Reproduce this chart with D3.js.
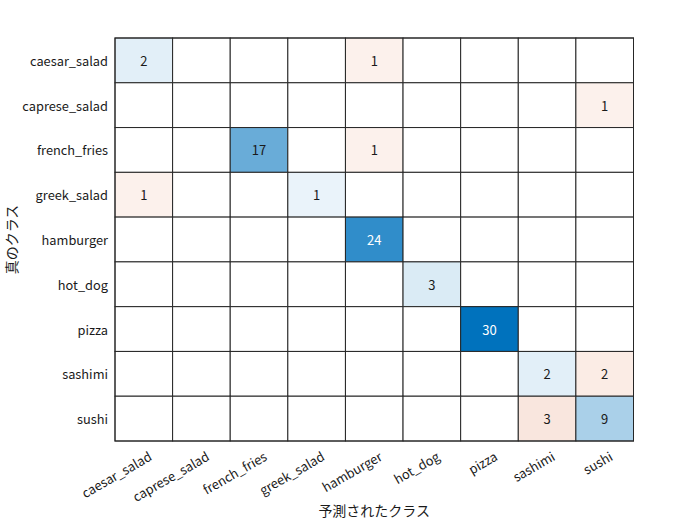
<!DOCTYPE html>
<html><head><meta charset="utf-8">
<script src="https://cdn.jsdelivr.net/npm/d3@7"></script>
<style>body{margin:0;background:#fff}text{font-family:"Noto Sans CJK JP","Noto Sans",sans-serif}</style>
</head><body><svg id="c" width="700" height="525"></svg>
<script>
const classes = ["caesar_salad","caprese_salad","french_fries","greek_salad","hamburger","hot_dog","pizza","sashimi","sushi"];
// counts[trueRow][predictedCol]
const row_caesar_salad  = [2,0,0,0,1,0,0,0,0];
const row_caprese_salad = [0,0,0,0,0,0,0,0,1];
const row_french_fries  = [0,0,17,0,1,0,0,0,0];
const row_greek_salad   = [1,0,0,1,0,0,0,0,0];
const row_hamburger     = [0,0,0,0,24,0,0,0,0];
const row_hot_dog       = [0,0,0,0,0,3,0,0,0];
const row_pizza         = [0,0,0,0,0,0,30,0,0];
const row_sashimi       = [0,0,0,0,0,0,0,2,2];
const row_sushi         = [0,0,0,0,0,0,0,3,9];
const counts = [row_caesar_salad,row_caprese_salad,row_french_fries,row_greek_salad,row_hamburger,row_hot_dog,row_pizza,row_sashimi,row_sushi];
const xLabel = "予測されたクラス";
const yLabel = "真のクラス";

const svg = d3.select("#c");
const L=115, R=633.5, T=38, B=441;
const x = d3.scaleBand().domain(classes).range([L,R]);
const y = d3.scaleBand().domain(classes).range([T,B]);
const maxV = d3.max(counts.flat());
const tScale = d3.scaleLinear().domain([0,maxV]).range([0.05,1]);
const blue = d3.interpolateRgb("#ffffff","rgb(0,114,189)");
const orange = d3.interpolateRgb("#ffffff","rgb(217,83,25)");

const cells=[];
counts.forEach((row,i)=>row.forEach((v,j)=>cells.push({r:classes[i],c:classes[j],v,diag:i===j})));

svg.selectAll("rect.cell").data(cells).join("rect")
 .attr("x",d=>x(d.c)).attr("y",d=>y(d.r))
 .attr("width",x.bandwidth()).attr("height",y.bandwidth())
 .attr("fill",d=>d.v===0?"#fff":(d.diag?blue:orange)(tScale(d.v)))
 .attr("stroke","#262626").attr("stroke-width",1);

svg.selectAll("text.val").data(cells.filter(d=>d.v>0)).join("text")
 .attr("x",d=>x(d.c)+x.bandwidth()/2).attr("y",d=>y(d.r)+y.bandwidth()/2)
 .attr("text-anchor","middle").attr("dominant-baseline","central")
 .attr("font-size",13)
 .attr("fill",d=>tScale(d.v)>0.7?"#fff":"#1a1a1a")
 .text(d=>d.v);

svg.append("rect").attr("x",L).attr("y",T).attr("width",R-L).attr("height",B-T)
 .attr("fill","none").attr("stroke","#262626").attr("stroke-width",1);

// y tick labels
svg.selectAll("text.yt").data(classes).join("text")
 .attr("x",L-7).attr("y",d=>y(d)+y.bandwidth()/2)
 .attr("text-anchor","end").attr("dominant-baseline","central")
 .attr("font-size",12.8).attr("fill","#1a1a1a").text(d=>d);

// x tick labels rotated
svg.selectAll("text.xt").data(classes).join("text")
 .attr("transform",d=>`translate(${x(d)+x.bandwidth()/2+3},${B+8}) rotate(-30)`)
 .attr("text-anchor","end").attr("dominant-baseline","hanging")
 .attr("font-size",12.8).attr("fill","#1a1a1a").text(d=>d);

svg.append("text").attr("x",(L+R)/2).attr("y",516)
 .attr("text-anchor","middle").attr("font-size",14).attr("fill","#1a1a1a").text(xLabel);
svg.append("text").attr("transform",`translate(17,${(T+B)/2}) rotate(-90)`)
 .attr("text-anchor","middle").attr("font-size",14).attr("fill","#1a1a1a").text(yLabel);
</script></body></html>
